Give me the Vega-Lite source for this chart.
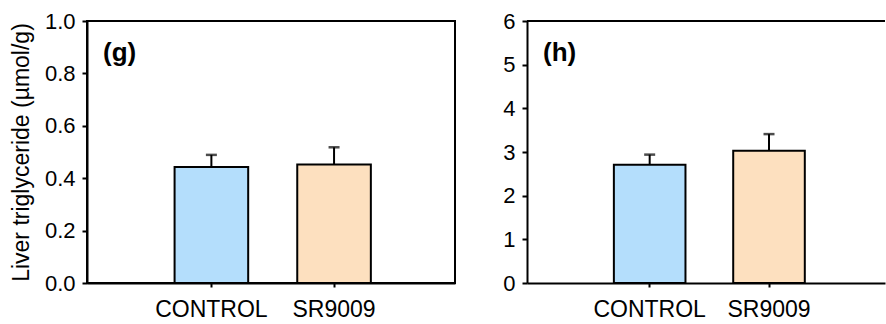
{
  "$schema": "https://vega.github.io/schema/vega-lite/v6.json",
  "padding": {"left": 9, "top": 9, "right": 0, "bottom": 0},
  "background": "white",
  "spacing": 46,
  "config": {
    "font": "Liberation Sans",
    "view": {"stroke": "black", "strokeWidth": 2},
    "axis": {
      "grid": false,
      "domainColor": "black",
      "domainWidth": 2,
      "tickColor": "black",
      "tickWidth": 2,
      "labelColor": "black",
      "titleColor": "black",
      "labelFont": "Liberation Sans",
      "titleFont": "Liberation Sans"
    },
    "title": {"font": "Liberation Sans", "fontSize": 26, "fontWeight": "bold", "color": "black", "anchor": "start", "frame": "group", "baseline": "top", "offset": -56, "dx": 16}
  },
  "datasets": {
    "bars": [
      {"panel": "g", "group": "CONTROL", "mean": 0.443, "upper": 0.489},
      {"panel": "g", "group": "SR9009", "mean": 0.452, "upper": 0.518},
      {"panel": "h", "group": "CONTROL", "mean": 2.71, "upper": 2.94},
      {"panel": "h", "group": "SR9009", "mean": 3.03, "upper": 3.41}
    ]
  },
  "hconcat": [
    {
      "width": 368,
      "height": 262,
      "title": {"text": "(g)"},
      "data": {"name": "bars"},
      "transform": [{"filter": "datum.panel === 'g'"}],
      "encoding": {
        "x": {
          "field": "group",
          "type": "nominal",
          "sort": ["CONTROL", "SR9009"],
          "scale": {"paddingInner": 0.4, "paddingOuter": 0.7, "align": 0.51},
          "axis": {"title": null, "labelAngle": 0, "labelFontSize": 23, "tickSize": 4, "labelPadding": 11}
        }
      },
      "layer": [
        {
          "mark": {"type": "bar", "stroke": "black", "strokeWidth": 2},
          "encoding": {
            "y": {
              "field": "mean",
              "type": "quantitative",
              "scale": {"domain": [0, 1], "nice": false},
              "axis": {
                "title": "Liver triglyceride (µmol/g)",
                "titleFontSize": 23,
                "titleFontWeight": "normal",
                "titlePadding": 11,
                "labelFontSize": 22,
                "format": ".1f",
                "values": [0, 0.2, 0.4, 0.6, 0.8, 1.0],
                "tickSize": 5,
                "labelPadding": 7
              }
            },
            "fill": {
              "field": "group",
              "type": "nominal",
              "scale": {"domain": ["CONTROL", "SR9009"], "range": ["#b4defc", "#fde0bf"]},
              "legend": null
            }
          }
        },
        {
          "mark": {"type": "rule", "strokeWidth": 2, "color": "black"},
          "encoding": {
            "y": {"field": "mean", "type": "quantitative"},
            "y2": {"field": "upper"}
          }
        },
        {
          "mark": {"type": "tick", "color": "black", "thickness": 2.5, "size": 11},
          "encoding": {
            "y": {"field": "upper", "type": "quantitative"}
          }
        }
      ]
    },
    {
      "width": 358,
      "height": 262,
      "title": {"text": "(h)"},
      "view": {"stroke": null},
      "layer": [
        {
          "data": {"name": "bars"},
          "transform": [{"filter": "datum.panel === 'h'"}],
          "encoding": {
            "x": {
              "field": "group",
              "type": "nominal",
              "sort": ["CONTROL", "SR9009"],
              "scale": {"paddingInner": 0.4, "paddingOuter": 0.7, "align": 0.52},
              "axis": {"title": null, "labelAngle": 0, "labelFontSize": 23, "tickSize": 4, "labelPadding": 11}
            }
          },
          "layer": [
            {
              "mark": {"type": "bar", "stroke": "black", "strokeWidth": 2},
              "encoding": {
                "y": {
                  "field": "mean",
                  "type": "quantitative",
                  "scale": {"domain": [0, 6], "nice": false},
                  "axis": {
                    "title": null,
                    "labelFontSize": 22,
                    "format": "d",
                    "values": [0, 1, 2, 3, 4, 5, 6],
                    "tickSize": 5,
                    "labelPadding": 7
                  }
                },
                "fill": {
                  "field": "group",
                  "type": "nominal",
                  "scale": {"domain": ["CONTROL", "SR9009"], "range": ["#b4defc", "#fde0bf"]},
                  "legend": null
                }
              }
            },
            {
              "mark": {"type": "rule", "strokeWidth": 2, "color": "black"},
              "encoding": {
                "y": {"field": "mean", "type": "quantitative"},
                "y2": {"field": "upper"}
              }
            },
            {
              "mark": {"type": "tick", "color": "black", "thickness": 2.5, "size": 11},
              "encoding": {
                "y": {"field": "upper", "type": "quantitative"}
              }
            }
          ]
        },
        {
          "data": {"values": [{"top": 6}]},
          "mark": {"type": "rule", "strokeWidth": 2, "color": "black"},
          "encoding": {
            "y": {"field": "top", "type": "quantitative"}
          }
        }
      ]
    }
  ]
}
